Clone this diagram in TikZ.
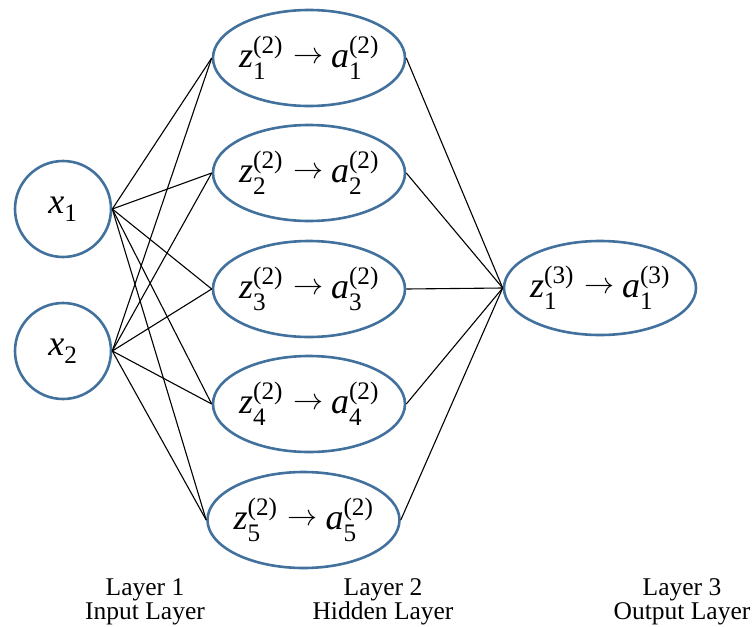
\documentclass[tikz,border=0pt]{standalone}
\usepackage{amsmath}
\usepackage{graphicx}
\usepackage{fontspec}
\setmainfont{Liberation Serif}
\usetikzlibrary{shapes.geometric}
\definecolor{nodeblue}{RGB}{65,113,156}
\newcommand{\ms}[3]{\textit{#1}$_{\text{#2}}^{\text{(#3)}}$}
\newcommand{\myarrow}{\raisebox{0.12em}{\resizebox{30pt}{!}{$\rightarrow$}}}
\newcommand{\hid}[4]{\ms{z}{#1}{#2}\hspace{0.28em}\myarrow\hspace{0.22em}\ms{a}{#3}{#4}}
\begin{document}
\begin{tikzpicture}[x=1pt,y=-1pt,
  neuron/.style={draw=nodeblue,line width=2.6pt,circle,minimum size=96pt,inner sep=0pt,
    font=\fontsize{36}{40}\selectfont},
  unit/.style={draw=nodeblue,line width=2.6pt,ellipse,minimum width=192pt,minimum height=96pt,
    inner xsep=-30pt,inner ysep=0pt,font=\fontsize{36}{40}\selectfont},
  conn/.style={line width=1.1pt,black},
  layerlabel/.style={align=center,font=\fontsize{25.5}{24}\selectfont,inner sep=0pt}]
\useasboundingbox (0,0) rectangle (754,626);
\node[neuron] (x1) at (63,209) {\textit{x}$_{\text{1}}$};
\node[neuron] (x2) at (63,351) {\textit{x}$_{\text{2}}$};
\node[unit] (h1) at (309,58) {\hid{1}{2}{1}{2}};
\node[unit] (h2) at (309,173) {\hid{2}{2}{2}{2}};
\node[unit] (h3) at (309,289) {\hid{3}{2}{3}{2}};
\node[unit] (h4) at (309,404) {\hid{4}{2}{4}{2}};
\node[unit] (h5) at (303.5,520) {\hid{5}{2}{5}{2}};
\node[unit,minimum height=94pt] (o1) at (600,288) {\hid{1}{3}{1}{3}};
\foreach \i in {x1,x2}{
  \foreach \j in {h1,h2,h3,h4,h5}{
    \draw[conn] (\i.east) -- (\j.west);
  }
}
\foreach \j in {h1,h2,h3,h4,h5}{
  \draw[conn] (\j.east) -- (o1.west);
}
\node[layerlabel] (l1) at (145,602) {Layer 1\\Input Layer};
\node[layerlabel] (l2) at (383,602) {Layer 2\\Hidden Layer};
\node[layerlabel] (l3) at (682,602) {Layer 3\\Output Layer};
\end{tikzpicture}
\end{document}
